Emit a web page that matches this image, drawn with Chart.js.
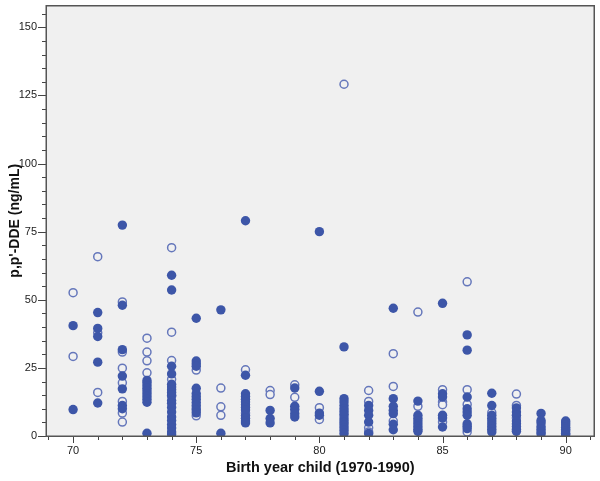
<!DOCTYPE html>
<html>
<head>
<meta charset="utf-8">
<script src="https://cdn.jsdelivr.net/npm/chart.js@4/dist/chart.umd.min.js"></script>
<style>
html,body{margin:0;padding:0;background:#fff;}
#wrap{width:600px;height:481px;position:relative;}
</style>
</head>
<body>
<div id="wrap"><canvas id="c" width="600" height="481"></canvas></div>
<script>
// Birth years (x categories)
const years = [70,71,72,73,74,75,76,77,78,79,80,81,82,83,84,85,86,87,88,89,90];

// Filled-circle values per birth year (ng/mL)
const filledValues = [
  [40.5, 9.7],
  [45.3, 39.5, 36.5, 27.1, 12.1],
  [77.4, 48.0, 31.7, 22.0, 17.3, 11.2, 10.0],
  [20.4, 19.5, 18.5, 17.5, 16.5, 15.5, 14.5, 13.5, 12.4, 1.0],
  [59.0, 53.6, 25.6, 22.8, 19.0, 18.0, 17.0, 16.0, 15.0, 13.0, 12.0, 10.5, 8.8, 7.0, 5.7, 4.2, 2.9, 1.5, 0.6],
  [43.2, 27.5, 26.5, 25.6, 17.5, 15.6, 14.5, 13.5, 12.3, 11.2, 9.5, 8.5],
  [46.3, 1.0],
  [79.0, 22.3, 15.5, 14.5, 13.5, 12.5, 11.5, 10.5, 9.5, 7.5, 6.5, 5.5, 4.8],
  [9.4, 6.4, 4.8],
  [17.6, 10.9, 9.7, 8.2, 7.0],
  [75.0, 16.4, 8.4, 7.6],
  [32.7, 13.7, 12.5, 11.2, 10.0, 9.0, 8.0, 6.0, 5.0, 4.0, 3.0, 2.0, 0.9],
  [11.2, 9.4, 7.6, 5.1, 0.9],
  [46.9, 13.7, 10.9, 9.4, 8.2, 4.3, 2.3],
  [12.8, 7.6, 6.5, 5.5, 4.5, 3.5, 2.5, 1.7],
  [48.7, 15.5, 14.3, 7.6, 6.6, 3.3],
  [37.1, 31.5, 14.3, 10.0, 8.8, 7.6, 4.5, 3.6, 2.7],
  [15.7, 11.2, 7.6, 6.5, 5.5, 4.5, 3.5, 2.5, 1.5],
  [10.3, 8.8, 7.6, 5.5, 4.5, 3.5, 2.5, 1.7],
  [8.3, 5.7, 4.8, 3.5, 2.5, 1.5, 0.8],
  [5.5, 4.8, 4.0, 3.2, 2.5, 1.8, 1.0, 0.5]
];

// Open-circle values per birth year (ng/mL)
const openValues = [
  [52.6, 29.2],
  [65.8, 37.9, 16.0],
  [49.2, 30.8, 24.9, 19.5, 12.7, 8.4, 5.1],
  [35.9, 30.8, 27.6, 23.2],
  [69.1, 38.1, 27.7, 20.8, 14.6],
  [24.2, 10.2, 7.4],
  [17.6, 10.7, 7.6],
  [24.3, 8.4],
  [16.7, 15.2],
  [18.8, 14.2],
  [10.4, 6.1],
  [129.1, 7.0],
  [16.7, 12.7, 3.0, 1.5],
  [30.2, 18.2, 5.5],
  [45.5, 10.9],
  [17.0, 12.5, 11.5, 5.1],
  [56.6, 17.0, 11.6, 1.5],
  [8.6],
  [15.4, 11.2, 6.6],
  [],
  []
];

// Axis tick labels
const xTickLabels = [70, 75, 80, 85, 90];
const yTickLabels = [0, 25, 50, 75, 100, 125, 150];

const toPoints = (arr) => {
  const pts = [];
  arr.forEach((vals, i) => vals.forEach(v => pts.push({x: years[i], y: v})));
  return pts;
};

const FILLED = '#3d56a8';
const OPEN = '#6577bb';
const BG = '#f0f0f0';

const framePlugin = {
  id: 'frame',
  beforeDraw(chart) {
    const {ctx, chartArea: a} = chart;
    ctx.save();
    ctx.fillStyle = BG;
    ctx.fillRect(a.left, a.top, a.right - a.left, a.bottom - a.top);
    ctx.restore();
  },
  afterDraw(chart) {
    const {ctx, chartArea: a} = chart;
    const xs = chart.scales.x, ys = chart.scales.y;
    ctx.save();
    ctx.strokeStyle = '#444';
    ctx.lineWidth = 1;
    for (let v = 0; v <= ys.max; v += 5) {
      const p = Math.round(ys.getPixelForValue(v)) + 0.5;
      const len = (v % 25 === 0) ? 8 : 4;
      ctx.beginPath();
      ctx.moveTo(a.left - len, p);
      ctx.lineTo(a.left, p);
      ctx.stroke();
    }
    for (let v = Math.ceil(xs.min); v <= xs.max; v += 1) {
      const p = Math.round(xs.getPixelForValue(v)) + 0.5;
      const len = (v % 5 === 0) ? 7 : 4;
      ctx.beginPath();
      ctx.moveTo(p, a.bottom);
      ctx.lineTo(p, a.bottom + len);
      ctx.stroke();
    }
    ctx.strokeStyle = '#555';
    ctx.lineWidth = 1.5;
    ctx.strokeRect(a.left + 0.25, a.top + 0.25, a.right - a.left - 0.5, a.bottom - a.top);
    ctx.restore();
  }
};

new Chart(document.getElementById('c'), {
  type: 'scatter',
  data: {
    datasets: [
      {
        label: 'filled',
        data: toPoints(filledValues),
        pointRadius: 4.7,
        pointHoverRadius: 4.7,
        pointBorderWidth: 0,
        backgroundColor: FILLED,
        borderColor: FILLED
      },
      {
        label: 'open',
        data: toPoints(openValues),
        pointRadius: 4.0,
        pointHoverRadius: 4.0,
        pointBorderWidth: 1.5,
        backgroundColor: BG,
        borderColor: OPEN
      }
    ]
  },
  plugins: [framePlugin],
  options: {
    responsive: false,
    animation: false,
    events: [],
    layout: {padding: {top: 4, right: 3, left: 0, bottom: 0}},
    plugins: {legend: {display: false}, tooltip: {enabled: false}},
    scales: {
      x: {
        type: 'linear',
        min: 68.9,
        max: 91.17,
        afterFit: s => { s.height = 45; s.paddingLeft = 0; s.paddingRight = 0; },
        afterBuildTicks: s => { s.ticks = xTickLabels.map(v => ({value: v})); },
        grid: {display: false, drawTicks: false},
        border: {display: false},
        ticks: {
          padding: 8,
          color: '#222',
          font: {family: 'Liberation Sans, Arial, sans-serif', size: 11},
          maxRotation: 0,
          autoSkip: false
        },
        title: {
          display: true,
          text: 'Birth year child (1970-1990)',
          color: '#111',
          font: {family: 'Liberation Sans, Arial, sans-serif', size: 14.5, weight: 'bold'},
          padding: {top: 0, bottom: 4}
        }
      },
      y: {
        type: 'linear',
        min: 0,
        max: 158,
        afterFit: s => { s.width = 46; s.paddingTop = 0; s.paddingBottom = 0; },
        afterBuildTicks: s => { s.ticks = yTickLabels.map(v => ({value: v})); },
        grid: {display: false, drawTicks: false},
        border: {display: false},
        ticks: {
          padding: 9,
          color: '#222',
          font: {family: 'Liberation Sans, Arial, sans-serif', size: 11},
          autoSkip: false
        },
        title: {
          display: true,
          text: "p,p'-DDE (ng/mL)",
          color: '#111',
          font: {family: 'Liberation Sans, Arial, sans-serif', size: 14, weight: 'bold'},
          padding: {top: 7, bottom: 0}
        }
      }
    }
  }
});
</script>
</body>
</html>
